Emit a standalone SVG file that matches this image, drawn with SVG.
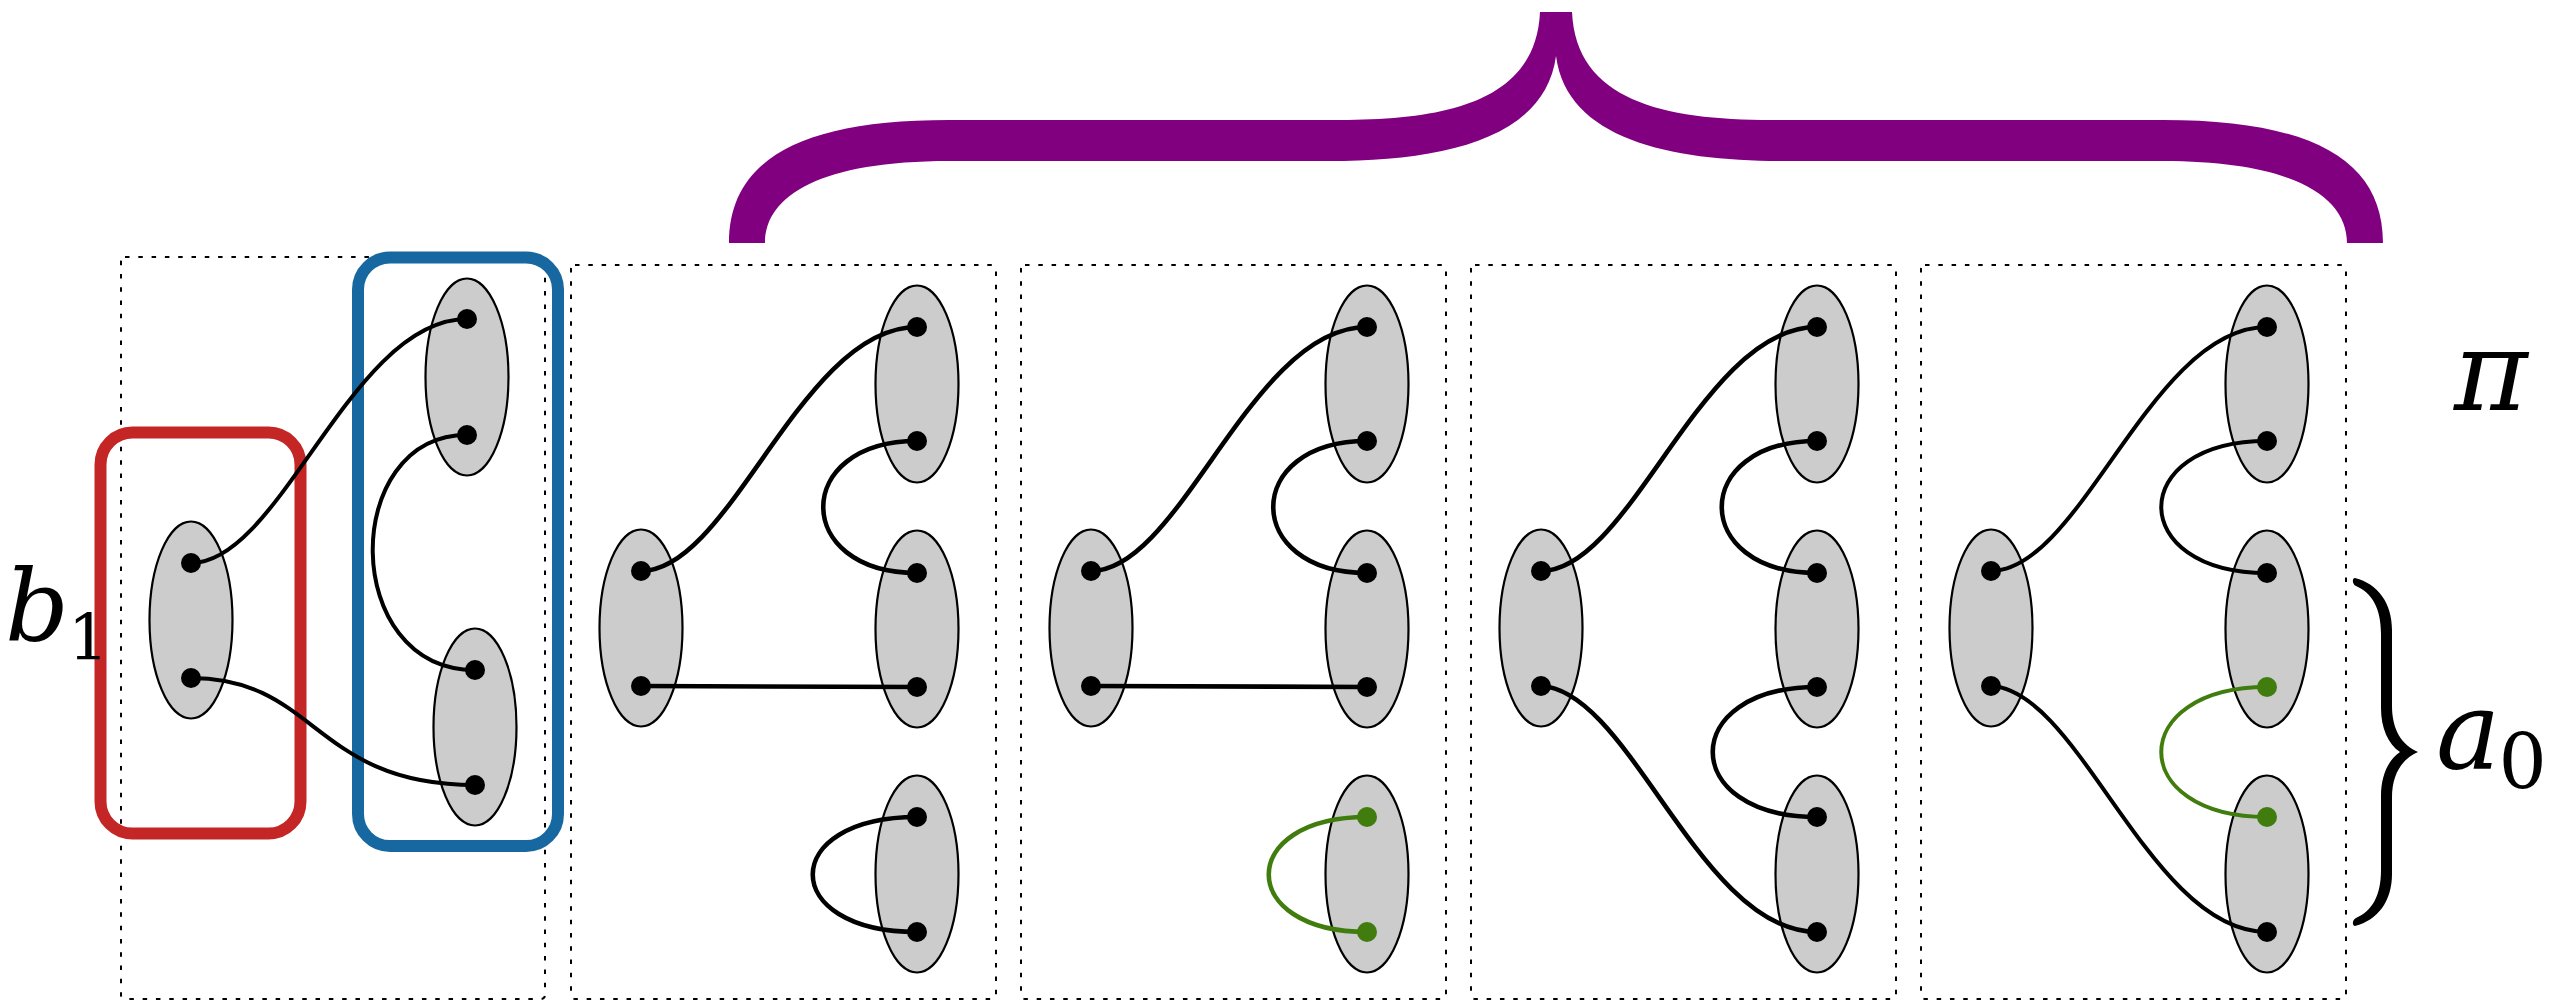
<svg xmlns="http://www.w3.org/2000/svg" width="2572" height="1004" viewBox="0 0 2572 1004">
  <style>
    .panel { fill: none; stroke: #000; stroke-width: 2; stroke-dasharray: 4.5 8.8; }
    .set { fill: #cccccc; stroke: #000; stroke-width: 2.2; }
    .pt { fill: #000; }
    .pt.g { fill: #407d0e; }
    .edge { fill: none; stroke: #000; stroke-width: 4.6; stroke-linecap: round; }
    .edge.thin { stroke-width: 4; }
    .edge.g { stroke: #407d0e; }
    .math { font-family: "DejaVu Serif", "Liberation Serif", serif; fill: #000; }
  </style>

  <rect width="2572" height="1004" fill="#fff"/>

  <!-- dotted frames around each configuration -->
  <g id="frames">
    <rect class="panel" x="121" y="257" width="424" height="742" rx="4"/>
    <rect class="panel" x="571" y="265" width="425" height="734" rx="4"/>
    <rect class="panel" x="1021" y="265" width="425" height="734" rx="4"/>
    <rect class="panel" x="1471" y="265" width="425" height="734" rx="4"/>
    <rect class="panel" x="1921" y="265" width="425" height="734" rx="4"/>
  </g>

  <!-- highlight boxes in the first configuration -->
  <rect id="box-b1" x="100.5" y="432.5" width="200" height="401" rx="32" fill="none" stroke="#c42626" stroke-width="12"/>
  <rect id="box-right" x="358" y="257.5" width="200" height="588.5" rx="32" fill="none" stroke="#1768a0" stroke-width="12"/>

  <!-- configuration 1 nodes -->
  <g id="c1-left"><ellipse class="set" cx="191" cy="620" rx="41.5" ry="98.5"/></g>
  <g id="c1-right-top"><ellipse class="set" cx="467" cy="377" rx="41.5" ry="98.5"/></g>
  <g id="c1-right-bottom"><ellipse class="set" cx="475" cy="727" rx="41.5" ry="98.5"/></g>

  <!-- configuration 2 nodes -->
  <g id="c2-left"><ellipse class="set" cx="641" cy="628" rx="41.5" ry="98.5"/></g>
  <g id="c2-right-top"><ellipse class="set" cx="917" cy="384" rx="41.5" ry="98.5"/></g>
  <g id="c2-right-mid"><ellipse class="set" cx="917" cy="629" rx="41.5" ry="98.5"/></g>
  <g id="c2-right-bottom"><ellipse class="set" cx="917" cy="874" rx="41.5" ry="98.5"/></g>

  <!-- configuration 3 nodes -->
  <g id="c3-left"><ellipse class="set" cx="1091" cy="628" rx="41.5" ry="98.5"/></g>
  <g id="c3-right-top"><ellipse class="set" cx="1367" cy="384" rx="41.5" ry="98.5"/></g>
  <g id="c3-right-mid"><ellipse class="set" cx="1367" cy="629" rx="41.5" ry="98.5"/></g>
  <g id="c3-right-bottom"><ellipse class="set" cx="1367" cy="874" rx="41.5" ry="98.5"/></g>

  <!-- configuration 4 nodes -->
  <g id="c4-left"><ellipse class="set" cx="1541" cy="628" rx="41.5" ry="98.5"/></g>
  <g id="c4-right-top"><ellipse class="set" cx="1817" cy="384" rx="41.5" ry="98.5"/></g>
  <g id="c4-right-mid"><ellipse class="set" cx="1817" cy="629" rx="41.5" ry="98.5"/></g>
  <g id="c4-right-bottom"><ellipse class="set" cx="1817" cy="874" rx="41.5" ry="98.5"/></g>

  <!-- configuration 5 nodes -->
  <g id="c5-left"><ellipse class="set" cx="1991" cy="628" rx="41.5" ry="98.5"/></g>
  <g id="c5-right-top"><ellipse class="set" cx="2267" cy="384" rx="41.5" ry="98.5"/></g>
  <g id="c5-right-mid"><ellipse class="set" cx="2267" cy="629" rx="41.5" ry="98.5"/></g>
  <g id="c5-right-bottom"><ellipse class="set" cx="2267" cy="874" rx="41.5" ry="98.5"/></g>

  <!-- connectors (drawn over the sets, ending on the points) -->
  <g id="connectors">
    <!-- configuration 1 -->
    <path class="edge thin" d="M191,563 C281,563 351,319 467,319"/>
    <path class="edge thin" d="M191,678 C317,678 314,785 475,785"/>
    <path class="edge thin" d="M467,435 C340,435 340,670 475,670"/>
    <!-- configuration 2 (X=571) -->
    <path class="edge" d="M641,571 C731,571 801,327 917,327"/>
    <path class="edge" d="M641,686 L917,687"/>
    <path class="edge" d="M917,441 C792,441 792,573 917,573"/>
    <path class="edge" d="M917,817 C778,817 778,932 917,932"/>
    <!-- configuration 3 (X=1021) -->
    <path class="edge" d="M1091,571 C1181,571 1251,327 1367,327"/>
    <path class="edge" d="M1091,686 L1367,687"/>
    <path class="edge" d="M1367,441 C1242,441 1242,573 1367,573"/>
    <path class="edge g" d="M1367,817 C1236,817 1236,932 1367,932"/>
    <!-- configuration 4 (X=1471) -->
    <path class="edge" d="M1541,571 C1631,571 1701,327 1817,327"/>
    <path class="edge" d="M1541,686 C1630,690 1700,932 1817,932"/>
    <path class="edge" d="M1817,441 C1690,441 1690,573 1817,573"/>
    <path class="edge" d="M1817,687 C1678,687 1678,817 1817,817"/>
    <!-- configuration 5 (X=1921) -->
    <path class="edge thin" d="M1991,571 C2081,571 2151,327 2267,327"/>
    <path class="edge thin" d="M1991,686 C2080,690 2150,932 2267,932"/>
    <path class="edge thin" d="M2267,441 C2126,441 2126,573 2267,573"/>
    <path class="edge thin g" d="M2267,687 C2126,687 2126,817 2267,817"/>
  </g>

  <!-- endpoints inside the sets -->
  <g id="points">
    <circle class="pt" cx="191" cy="563" r="10"/>
    <circle class="pt" cx="191" cy="678" r="10"/>
    <circle class="pt" cx="467" cy="319" r="10"/>
    <circle class="pt" cx="467" cy="435" r="10"/>
    <circle class="pt" cx="475" cy="670" r="10"/>
    <circle class="pt" cx="475" cy="785" r="10"/>

    <circle class="pt" cx="641" cy="571" r="10"/>
    <circle class="pt" cx="641" cy="686" r="10"/>
    <circle class="pt" cx="917" cy="327" r="10"/>
    <circle class="pt" cx="917" cy="441" r="10"/>
    <circle class="pt" cx="917" cy="573" r="10"/>
    <circle class="pt" cx="917" cy="687" r="10"/>
    <circle class="pt" cx="917" cy="817" r="10"/>
    <circle class="pt" cx="917" cy="932" r="10"/>

    <circle class="pt" cx="1091" cy="571" r="10"/>
    <circle class="pt" cx="1091" cy="686" r="10"/>
    <circle class="pt" cx="1367" cy="327" r="10"/>
    <circle class="pt" cx="1367" cy="441" r="10"/>
    <circle class="pt" cx="1367" cy="573" r="10"/>
    <circle class="pt" cx="1367" cy="687" r="10"/>
    <circle class="pt g" cx="1367" cy="817" r="10"/>
    <circle class="pt g" cx="1367" cy="932" r="10"/>

    <circle class="pt" cx="1541" cy="571" r="10"/>
    <circle class="pt" cx="1541" cy="686" r="10"/>
    <circle class="pt" cx="1817" cy="327" r="10"/>
    <circle class="pt" cx="1817" cy="441" r="10"/>
    <circle class="pt" cx="1817" cy="573" r="10"/>
    <circle class="pt" cx="1817" cy="687" r="10"/>
    <circle class="pt" cx="1817" cy="817" r="10"/>
    <circle class="pt" cx="1817" cy="932" r="10"/>

    <circle class="pt" cx="1991" cy="571" r="10"/>
    <circle class="pt" cx="1991" cy="686" r="10"/>
    <circle class="pt" cx="2267" cy="327" r="10"/>
    <circle class="pt" cx="2267" cy="441" r="10"/>
    <circle class="pt" cx="2267" cy="573" r="10"/>
    <circle class="pt g" cx="2267" cy="687" r="10"/>
    <circle class="pt g" cx="2267" cy="817" r="10"/>
    <circle class="pt" cx="2267" cy="932" r="10"/>
  </g>

  <!-- large brace grouping configurations 2-5 -->
  <path id="brace-top" fill="#800080" d="M729,243 C729,160 800,120 949,120 H1340 C1450,120 1536,100 1540,12 H1572 C1576,100 1662,120 1772,120 H2163 C2312,120 2383,160 2383,243 H2347 C2347,195 2290,161 2163,161 H1783 C1672,161 1567,140 1556,56 C1545,140 1440,161 1329,161 H949 C822,161 765,195 765,243 Z"/>

  <!-- small brace on the right -->
  <path id="brace-a0" fill="#000" d="M2355,578 C2378,584 2392,603 2392,630 V706 C2392,730 2402,745 2418,752 C2402,759 2392,774 2392,798 V874 C2392,901 2378,920 2355,926 C2352,926 2352,920 2356,918 C2372,911 2381,896 2381,870 V796 C2381,776 2388,760 2400,752 C2388,744 2381,728 2381,708 V634 C2381,608 2372,593 2356,586 C2352,584 2352,578 2355,578 Z"/>

  <!-- labels -->
  <text id="label-b1" class="math" x="5" y="641" font-size="100"><tspan font-style="italic">b</tspan><tspan dx="-1" dy="19" font-size="64">1</tspan></text>
  <text id="label-pi" class="math" x="2454" y="410" font-size="112" font-style="italic">π</text>
  <text id="label-a0" class="math" x="2436" y="768" font-size="108"><tspan font-style="italic">a</tspan><tspan dx="-2" dy="20" font-size="76">0</tspan></text>
</svg>
